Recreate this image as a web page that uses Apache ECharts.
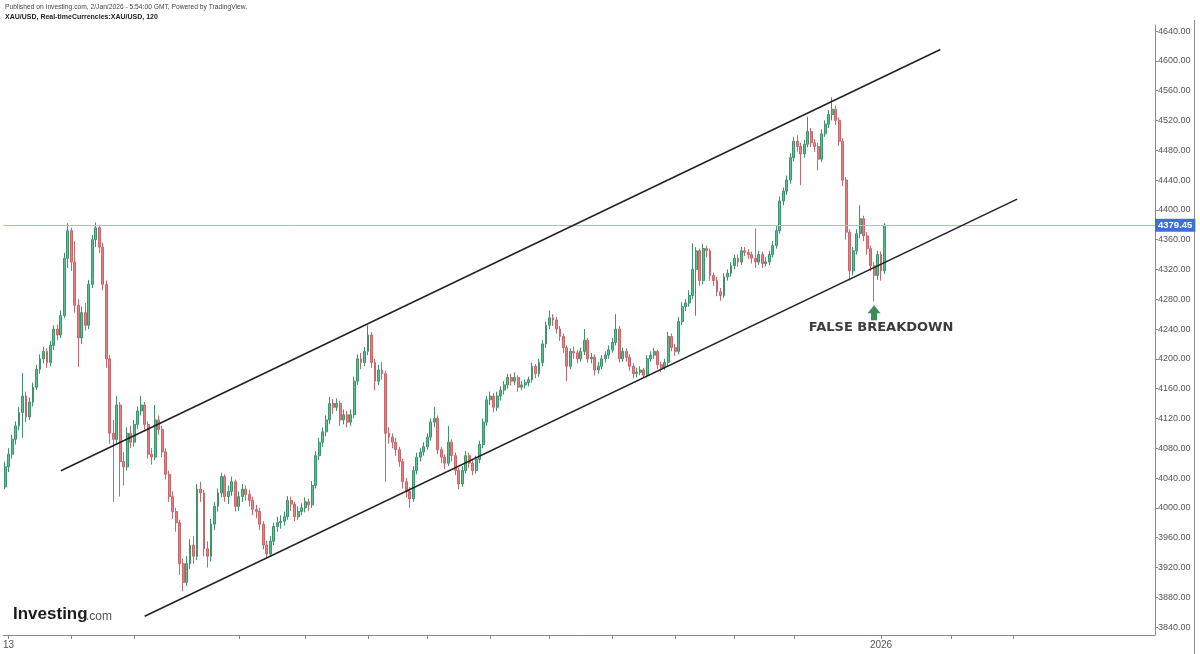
<!DOCTYPE html>
<html><head><meta charset="utf-8">
<script src="https://cdn.jsdelivr.net/npm/echarts@6/dist/echarts.min.js"></script>
<style>html,body{margin:0;padding:0;background:#fff}#c{width:1200px;height:654px}</style>
</head><body><div id="c"></div>
<script>
// ---- DATA ----
// 120-minute XAU/USD candles: [open, close, low, high]
const candles = [
[4028,4055,4025,4062],[4055,4072,4048,4080],[4072,4092,4066,4098],[4092,4110,4085,4116],[4110,4128,4104,4135],
[4128,4150,4094,4181],[4150,4122,4115,4156],[4122,4142,4118,4148],[4142,4162,4136,4168],[4162,4186,4158,4192],
[4186,4200,4180,4206],[4200,4210,4194,4216],[4210,4195,4188,4214],[4195,4218,4190,4224],[4218,4240,4212,4245],
[4240,4232,4225,4246],[4232,4258,4228,4265],[4258,4335,4255,4342],[4335,4372,4322,4382],[4372,4330,4318,4376],
[4330,4272,4262,4358],[4272,4228,4189,4280],[4228,4262,4220,4270],[4262,4245,4238,4275],[4245,4300,4240,4306],
[4300,4360,4295,4366],[4360,4376,4350,4383],[4376,4350,4342,4380],[4350,4300,4292,4356],[4300,4200,4188,4305],
[4200,4100,4086,4205],[4100,4092,4008,4118],[4092,4138,4085,4150],[4138,4062,4015,4142],[4062,4055,4030,4075],
[4055,4100,4050,4108],[4100,4088,4080,4110],[4088,4112,4082,4118],[4112,4130,4106,4136],[4130,4138,4124,4150],
[4138,4112,4105,4142],[4112,4072,4066,4116],[4072,4068,4058,4080],[4068,4118,4064,4138],[4118,4105,4098,4124],
[4105,4075,4068,4110],[4075,4045,4038,4080],[4045,4015,4008,4050],[4015,3995,3985,4022],[3995,3980,3968,4000],
[3980,3925,3910,3984],[3925,3900,3888,3932],[3900,3925,3895,3935],[3925,3950,3918,3958],[3950,3935,3925,3962],
[3935,4025,3930,4032],[4025,4020,4008,4035],[4020,3945,3935,4024],[3945,3935,3920,3955],[3935,3978,3928,3985],
[3978,4002,3970,4008],[4002,4020,3995,4026],[4020,4042,4014,4047],[4042,4015,4008,4045],[4015,4022,4005,4030],
[4022,4035,4016,4042],[4035,4002,3995,4038],[4002,4015,3996,4022],[4015,4025,4008,4032],[4025,4018,4010,4030],
[4018,4010,4002,4024],[4010,3998,3990,4015],[3998,3995,3986,4004],[3995,3978,3970,4000],[3978,3950,3944,3982],
[3950,3938,3932,3956],[3938,3955,3934,3962],[3955,3975,3950,3980],[3975,3980,3968,3988],[3980,3982,3972,3990],
[3982,3988,3976,3995],[3988,4010,3984,4016],[4010,4005,3996,4015],[4005,3988,3982,4008],[3988,3995,3984,4002],
[3995,4000,3990,4006],[4000,4008,3994,4014],[4008,4004,3996,4012],[4004,4030,4000,4036],[4030,4070,4026,4076],
[4070,4088,4064,4094],[4088,4102,4082,4108],[4102,4118,4096,4124],[4118,4140,4112,4149],[4140,4135,4126,4146],
[4135,4140,4130,4147],[4140,4118,4110,4144],[4118,4125,4112,4132],[4125,4115,4108,4130],[4115,4125,4110,4132],
[4125,4170,4120,4176],[4170,4200,4165,4206],[4200,4195,4186,4208],[4195,4210,4190,4216],[4210,4232,4205,4245],
[4232,4195,4188,4236],[4195,4170,4158,4200],[4170,4185,4165,4192],[4185,4180,4172,4196],[4180,4100,4035,4184],
[4100,4095,4086,4108],[4095,4088,4080,4100],[4088,4078,4070,4094],[4078,4062,4055,4082],[4062,4035,4026,4066],
[4035,4022,4014,4040],[4022,4012,4000,4028],[4012,4050,4008,4056],[4050,4068,4045,4074],[4068,4075,4062,4080],
[4075,4082,4070,4088],[4082,4095,4078,4100],[4095,4115,4090,4120],[4115,4120,4108,4135],[4120,4078,4072,4124],
[4078,4068,4060,4082],[4068,4060,4052,4072],[4060,4088,4056,4110],[4088,4070,4062,4092],[4070,4050,4044,4074],
[4050,4032,4025,4054],[4032,4050,4028,4056],[4050,4070,4046,4076],[4070,4060,4054,4074],[4060,4050,4044,4064],
[4050,4065,4046,4070],[4065,4085,4060,4090],[4085,4115,4080,4120],[4115,4145,4110,4150],[4145,4150,4138,4156],
[4150,4135,4128,4154],[4135,4150,4130,4156],[4150,4158,4144,4163],[4158,4165,4152,4170],[4165,4175,4160,4180],
[4175,4170,4164,4180],[4170,4175,4165,4182],[4175,4162,4156,4178],[4162,4165,4158,4170],[4165,4168,4160,4172],
[4168,4172,4163,4176],[4172,4190,4168,4195],[4190,4180,4174,4193],[4180,4195,4176,4200],[4195,4220,4190,4225],
[4220,4245,4215,4250],[4245,4255,4240,4265],[4255,4252,4244,4260],[4252,4240,4234,4256],[4240,4230,4224,4244],
[4230,4215,4208,4234],[4215,4190,4170,4218],[4190,4210,4186,4214],[4210,4208,4200,4216],[4208,4200,4194,4212],
[4200,4210,4196,4215],[4210,4225,4205,4240],[4225,4200,4195,4228],[4200,4202,4194,4208],[4202,4185,4178,4206],
[4185,4190,4180,4196],[4190,4200,4186,4205],[4200,4205,4195,4210],[4205,4212,4200,4218],[4212,4222,4208,4228],
[4222,4240,4218,4260],[4240,4200,4195,4244],[4200,4210,4196,4215],[4210,4202,4196,4214],[4202,4190,4184,4206],
[4190,4180,4174,4194],[4180,4182,4175,4188],[4182,4185,4178,4190],[4185,4178,4175,4188],[4178,4200,4175,4205],
[4200,4205,4196,4210],[4205,4210,4200,4215],[4210,4192,4186,4212],[4192,4188,4182,4196],[4188,4195,4185,4200],
[4195,4230,4190,4236],[4230,4215,4210,4234],[4215,4210,4204,4220],[4210,4250,4206,4256],[4250,4270,4245,4276],
[4270,4275,4264,4280],[4275,4285,4270,4292],[4285,4320,4280,4355],[4320,4345,4258,4350],[4345,4305,4298,4348],
[4305,4348,4300,4354],[4348,4345,4336,4352],[4345,4312,4305,4348],[4312,4305,4298,4316],[4305,4290,4284,4310],
[4290,4285,4278,4295],[4285,4310,4282,4315],[4310,4315,4305,4320],[4315,4325,4310,4330],[4325,4335,4320,4340],
[4335,4330,4324,4340],[4330,4345,4326,4350],[4345,4343,4338,4350],[4343,4340,4334,4347],[4340,4335,4328,4344],
[4335,4330,4322,4375],[4330,4340,4326,4345],[4340,4328,4322,4344],[4328,4330,4324,4336],[4330,4340,4326,4345],
[4340,4352,4336,4358],[4352,4372,4348,4378],[4372,4412,4368,4418],[4412,4425,4406,4430],[4425,4440,4420,4446],
[4440,4470,4435,4476],[4470,4492,4465,4498],[4492,4485,4478,4500],[4485,4475,4433,4490],[4475,4488,4470,4494],
[4488,4505,4484,4525],[4505,4490,4484,4510],[4490,4485,4478,4495],[4485,4468,4453,4490],[4468,4502,4464,4508],
[4502,4515,4498,4520],[4515,4528,4510,4534],[4528,4535,4520,4551],[4535,4520,4514,4540],[4520,4492,4486,4524],
[4492,4440,4432,4496],[4440,4370,4360,4444],[4370,4318,4305,4374],[4318,4345,4312,4350],[4345,4368,4340,4374],
[4368,4388,4362,4406],[4388,4365,4358,4392],[4365,4348,4340,4370],[4348,4325,4318,4352],[4325,4312,4277,4330],
[4312,4340,4306,4345],[4340,4318,4305,4344],[4318,4379.45,4314,4382]
];
// bar slots on the time axis (data + empty future space)
const slotCount = 330;
// x-axis ticks (bar index) and their labels
const tickIndex = [1, 19, 37, 67, 86, 104, 121, 139, 156, 174, 192, 209, 226, 251, 271, 289];
const tickText  = ['13', '', '', '', '', '', '', '', '', '', '', '', '', '2026', '', ''];
// price axis tick values
const yTicks = [3840,3880,3920,3960,4000,4040,4080,4120,4160,4200,4240,4280,4320,4360,4400,4440,4480,4520,4560,4600,4640];
// channel trendlines: [bar index, price]
const upperChannel = [[16, 4049.8], [268, 4615.2]];
const lowerChannel = [[40, 3854.4], [290, 4414.4]];
// annotation anchors: [bar index, price]
const arrowAt = [249, 4262];
const noteAt = [251, 4242];
const noteText = 'FALSE BREAKDOWN';
const lastPrice = candles[candles.length - 1][1];

// ---- CHART ----
const categories = [];
for (let i = 0; i < slotCount; i++) {
  const k = tickIndex.indexOf(i);
  categories.push(k >= 0 ? tickText[k] : '');
}
const tickSet = new Set(tickIndex);

const chart = echarts.init(document.getElementById('c'), null, {renderer: 'canvas'});
const FONT = '"Liberation Sans", Arial, sans-serif';
chart.setOption({
  animation: false,
  backgroundColor: '#ffffff',
  grid: {left: 3, right: 45, top: 25, bottom: 19, containLabel: false},
  xAxis: {
    type: 'category',
    data: categories,
    boundaryGap: true,
    axisLine: {show: true, lineStyle: {color: '#8a8a8a', width: 1}},
    axisTick: {show: true, alignWithLabel: true, length: 4, lineStyle: {color: '#8a8a8a'},
      interval: (idx) => tickSet.has(idx)},
    axisLabel: {show: true, color: '#555', fontSize: 10, fontFamily: FONT, margin: 5,
      interval: (idx) => tickSet.has(idx)},
    splitLine: {show: false}
  },
  yAxis: {
    type: 'value',
    position: 'right',
    min: 3829.3,
    max: 4648.1,
    scale: true,
    axisLine: {show: true, lineStyle: {color: '#8a8a8a', width: 1}},
    axisTick: {show: true, length: 3, lineStyle: {color: '#8a8a8a'}, customValues: yTicks},
    axisLabel: {show: true, color: '#555', fontSize: 9, fontFamily: FONT, margin: 3,
      customValues: yTicks, formatter: (v) => Number(v).toFixed(2)},
    splitLine: {show: false}
  },
  series: [
    {
      type: 'candlestick',
      data: candles,
      barWidth: 2.4,
      itemStyle: {
        color: '#55c493', color0: '#ec7d80',
        borderColor: '#3f936c', borderColor0: '#c7676b', borderWidth: 1
      },
      markLine: {
        silent: true,
        symbol: ['none', 'none'],
        lineStyle: {color: '#a9bde9', width: 1, type: 'solid'},
        label: {show: true, position: 'end', distance: 0, formatter: () => lastPrice.toFixed(2),
          color: '#fff', backgroundColor: '#3d6fd9', fontSize: 9.5, fontWeight: 'bold',
          fontFamily: FONT, padding: [2, 3, 1, 3]},
        data: [{yAxis: lastPrice}]
      },
      markPoint: {
        silent: true,
        data: [
          {coord: arrowAt, symbol: 'path://M6.5,0 L13,8 L9.5,8 L9.5,15 L3.5,15 L3.5,8 L0,8 Z',
            symbolSize: [13, 15], itemStyle: {color: '#3b8a5a'}, label: {show: false}},
          {coord: noteAt, symbol: 'rect', symbolSize: 1, itemStyle: {color: 'rgba(0,0,0,0)'},
            label: {show: true, position: 'inside', formatter: noteText, color: '#3c3c3c',
              fontSize: 13, fontWeight: 'bold', fontFamily: '"DejaVu Sans", sans-serif'}}
        ]
      }
    },
    {
      type: 'line', data: upperChannel, symbol: 'none', silent: true,
      lineStyle: {color: '#222', width: 1.5}, z: 5
    },
    {
      type: 'line', data: lowerChannel, symbol: 'none', silent: true,
      lineStyle: {color: '#222', width: 1.5}, z: 5
    }
  ],
  graphic: [
    {type: 'line', shape: {x1: 1194.5, y1: 20, x2: 1194.5, y2: 654}, style: {stroke: '#8a8a8a', lineWidth: 1}, silent: true},
    {type: 'text', left: 5, top: 4, style: {text: 'Published on Investing.com, 2/Jan/2026 - 5:54:00 GMT, Powered by TradingView.',
      font: '6.7px ' + FONT, fill: '#444'}},
    {type: 'text', left: 5, top: 14, style: {text: 'XAU/USD, Real-timeCurrencies:XAU/USD, 120',
      font: 'bold 7px ' + FONT, fill: '#222'}},
    {type: 'text', left: 13, top: 606, style: {text: 'Investing', font: 'bold 17px ' + FONT, fill: '#1b1b1b'}},
    {type: 'text', left: 86, top: 611, style: {text: '.com', font: '12px ' + FONT, fill: '#555'}}
  ]
});
</script></body></html>
